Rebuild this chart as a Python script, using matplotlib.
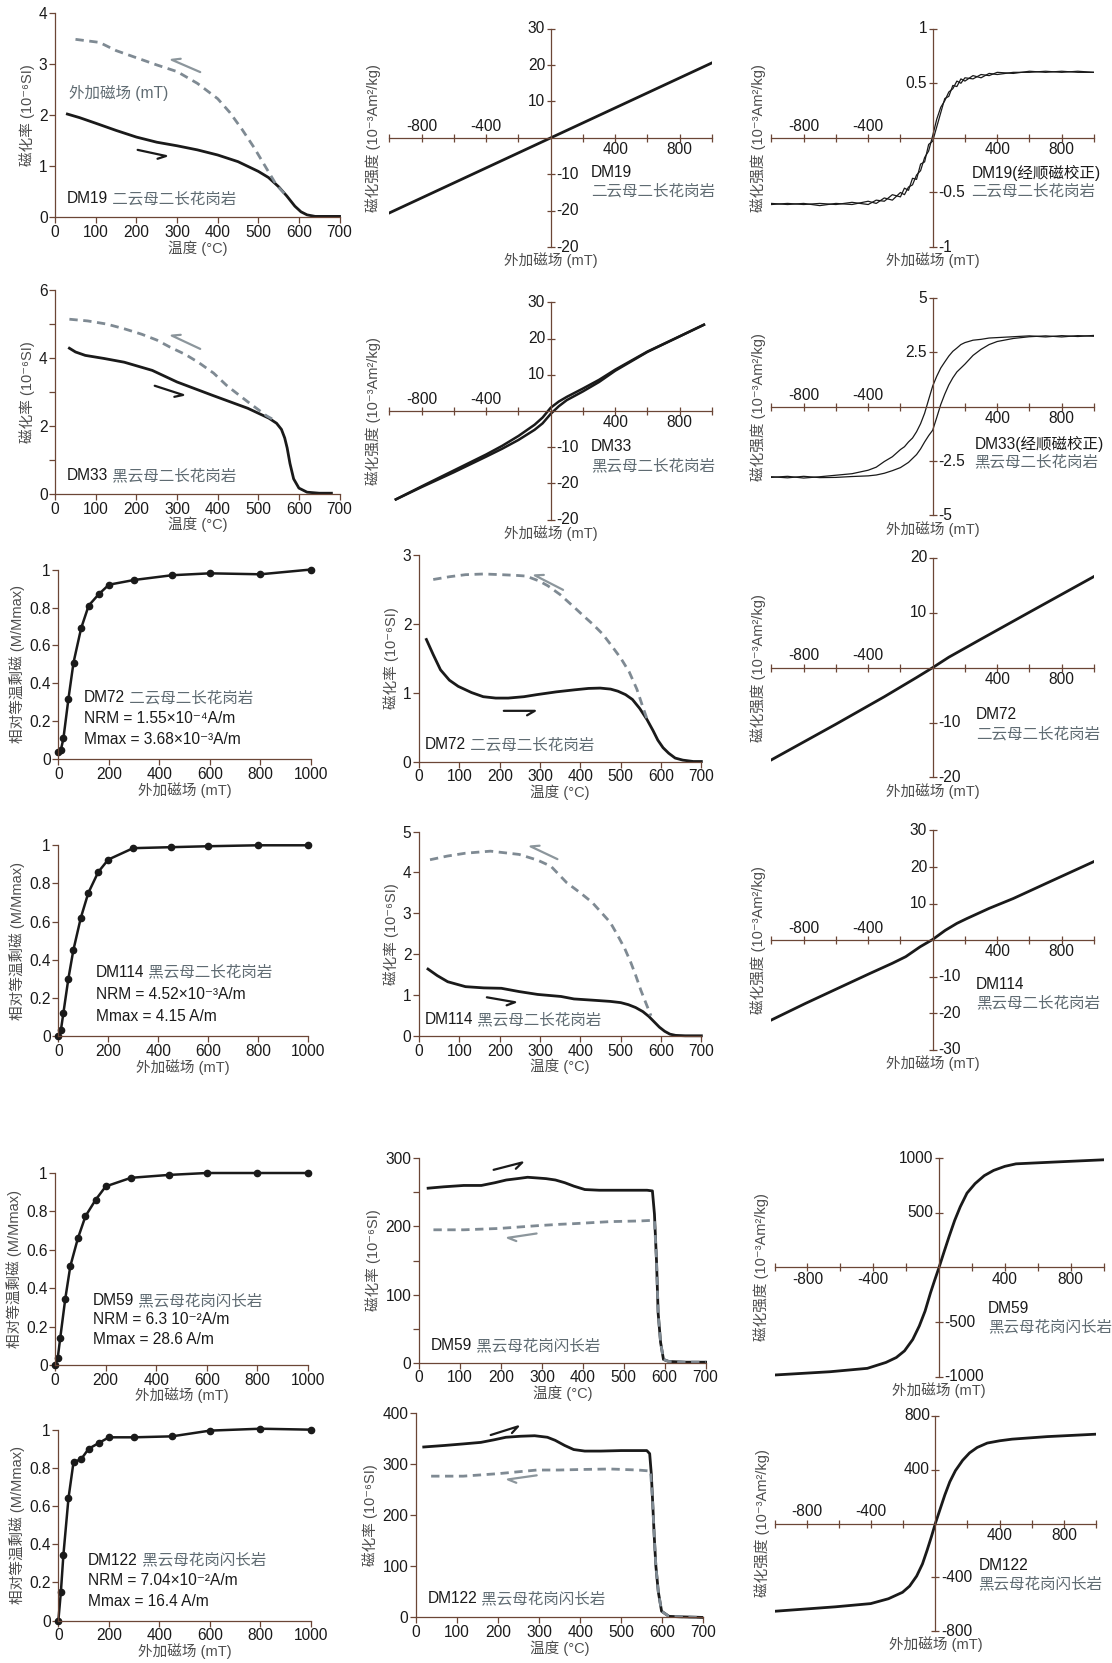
"""
rock-magnetic panels: chi-T curves, hysteresis (M-H) loops and IRM acquisition
for six granite samples, 6 rows x 3 columns
"""

import numpy as np
import matplotlib
matplotlib.use('Agg')
import matplotlib.pyplot as plt

plt.rcParams['font.family'] = ['Liberation Sans', 'Noto Sans CJK SC', 'DejaVu Sans']
plt.rcParams['font.size'] = 11
plt.rcParams['axes.unicode_minus'] = False

INK = '#1a1a1a'
AXIS = '#6b4636'
LABEL = '#4d4d4d'
ROCK = '#5f6b72'
DASH = '#7f8a93'
ARROW = '#8c969c'
FS = 11.2

# ---------------- chi-T data (temperature in C, susceptibility) ----------------
T_TICKS = [0, 100, 200, 300, 400, 500, 600, 700]

dm19_heat_t = [30, 60, 100, 150, 200, 250, 300, 350, 400, 450, 500, 525, 550, 570, 590, 605, 620, 640, 670, 700]
dm19_heat_k = [2.02, 1.95, 1.84, 1.70, 1.57, 1.47, 1.40, 1.32, 1.22, 1.09, 0.90, 0.78, 0.60, 0.42, 0.22, 0.11, 0.05, 0.02, 0.02, 0.02]
dm19_cool_t = [50, 109, 150, 200, 250, 300, 350, 400, 430, 460, 490, 520, 545, 570]
dm19_cool_k = [3.48, 3.42, 3.26, 3.12, 2.98, 2.85, 2.62, 2.32, 2.05, 1.72, 1.36, 0.96, 0.63, 0.42]

dm33_heat_t = [35, 50, 74, 120, 170, 239, 300, 387, 474, 526, 545, 557, 565, 571, 578, 587, 600, 620, 650, 680]
dm33_heat_k = [4.28, 4.17, 4.07, 3.98, 3.87, 3.63, 3.29, 2.90, 2.52, 2.23, 2.08, 1.90, 1.65, 1.36, 0.90, 0.45, 0.18, 0.06, 0.03, 0.03]
dm33_cool_t = [35, 80, 126, 170, 213, 250, 283, 320, 352, 390, 422, 450, 474, 500, 520, 535]
dm33_cool_k = [5.13, 5.08, 4.99, 4.85, 4.69, 4.52, 4.31, 4.10, 3.87, 3.55, 3.19, 2.93, 2.71, 2.48, 2.30, 2.20]

dm72_heat_t = [18, 35, 53, 75, 97, 130, 159, 190, 221, 260, 292, 340, 386, 420, 449, 475, 493, 512, 529, 547, 565, 580, 592, 605, 619, 635, 654, 680, 700]
dm72_heat_k = [1.77, 1.55, 1.33, 1.18, 1.09, 1.00, 0.94, 0.92, 0.92, 0.94, 0.97, 1.01, 1.04, 1.06, 1.065, 1.05, 1.02, 0.97, 0.90, 0.77, 0.61, 0.45, 0.31, 0.20, 0.12, 0.05, 0.02, 0.0, 0.0]
dm72_cool_t = [35, 75, 115, 160, 204, 240, 265, 297, 319, 350, 386, 410, 431, 455, 476, 500, 521, 540, 556, 565]
dm72_cool_k = [2.64, 2.68, 2.71, 2.72, 2.71, 2.70, 2.69, 2.62, 2.55, 2.42, 2.23, 2.10, 1.99, 1.85, 1.69, 1.50, 1.30, 1.05, 0.77, 0.62]

dm114_heat_t = [22, 45, 71, 115, 160, 204, 248, 294, 352, 384, 430, 474, 500, 519, 537, 555, 570, 582, 596, 609, 622, 636, 660, 700]
dm114_heat_k = [1.64, 1.48, 1.33, 1.21, 1.18, 1.17, 1.09, 1.02, 0.97, 0.91, 0.88, 0.85, 0.82, 0.77, 0.70, 0.60, 0.48, 0.36, 0.22, 0.12, 0.05, 0.02, 0.01, 0.01]
dm114_cool_t = [27, 70, 115, 177, 248, 294, 327, 366, 400, 429, 452, 474, 492, 510, 525, 537, 550, 564, 575]
dm114_cool_k = [4.31, 4.40, 4.47, 4.52, 4.44, 4.30, 4.15, 3.75, 3.50, 3.27, 3.02, 2.78, 2.47, 2.14, 1.80, 1.49, 1.12, 0.77, 0.50]

dm59_heat_t = [22, 60, 109, 152, 185, 213, 240, 265, 288, 310, 333, 356, 378, 405, 440, 467, 510, 557, 570, 575, 580, 584, 590, 597, 610, 650, 700]
dm59_heat_k = [256, 258, 260, 260, 264, 268, 270, 272, 271, 270, 268, 264, 259, 254, 253, 253, 253, 253, 252, 218, 150, 73, 30, 5, 2, 1, 1]
dm59_cool_t = [35, 109, 196, 288, 342, 378, 467, 540, 575, 580, 584, 590, 597, 610, 650, 700]
dm59_cool_k = [195, 195, 197, 201, 203, 204, 207, 208, 209, 150, 73, 30, 5, 2, 1, 1]

dm122_heat_t = [19, 70, 115, 158, 190, 219, 255, 289, 320, 339, 362, 384, 411, 450, 500, 562, 569, 573, 576, 580, 584, 590, 598, 616, 650, 696]
dm122_heat_k = [333, 336, 339, 342, 347, 352, 354, 355, 352, 346, 336, 328, 325, 325, 326, 326, 320, 280, 230, 160, 101, 50, 12, 2, 1, 0]
dm122_cool_t = [37, 115, 202, 295, 348, 400, 473, 540, 571, 576, 580, 584, 590, 598, 616, 650, 696]
dm122_cool_k = [276, 276, 281, 288, 288, 289, 290, 288, 286, 230, 160, 101, 50, 12, 2, 1, 0]

# ---------------- M-H data (field in mT, magnetisation) ----------------
dm19_line_h = [-1000, -500, 0, 500, 1000]
dm19_line_m = [-20.6, -10.3, 0, 10.3, 20.6]

dm33_line_h = [-960, -800, -600, -400, -300, -200, -100, -50, 0, 50, 100, 200, 300, 400, 600, 800, 950]
dm33_line_up = [-24.4, -20.8, -16.4, -12.0, -9.6, -6.9, -3.8, -1.8, 0.9, 2.6, 3.9, 6.2, 8.6, 11.4, 16.4, 20.6, 23.8]
dm33_line_lo = [-24.4, -21.0, -16.9, -12.6, -10.4, -8.0, -5.2, -3.4, -0.8, 1.3, 3.0, 5.4, 8.0, 11.1, 16.3, 20.6, 23.8]

loop_h = [-1000, -900, -800, -700, -600, -500, -400, -350, -300, -250, -200, -175, -150, -125, -100, -75, -50, -25,
          0, 25, 50, 75, 100, 125, 150, 175, 200, 250, 300, 350, 400, 500, 600, 700, 800, 900, 1000]
dm19_loop_up = [-0.60, -0.61, -0.60, -0.62, -0.60, -0.61, -0.58, -0.60, -0.55, -0.57, -0.50, -0.52, -0.45, -0.43,
                -0.34, -0.30, -0.18, -0.12, 0.02, 0.17, 0.28, 0.34, 0.42, 0.45, 0.52, 0.50, 0.55, 0.54, 0.58, 0.57,
                0.60, 0.59, 0.61, 0.60, 0.61, 0.60, 0.60]
dm19_loop_dn = [-0.61, -0.60, -0.61, -0.60, -0.61, -0.59, -0.61, -0.57, -0.58, -0.52, -0.54, -0.46, -0.48, -0.37,
                -0.38, -0.24, -0.22, -0.06, -0.03, 0.10, 0.23, 0.36, 0.38, 0.48, 0.47, 0.54, 0.52, 0.57, 0.55, 0.59,
                0.58, 0.60, 0.60, 0.61, 0.60, 0.61, 0.60]
dm33_loop_left = [-3.25, -3.20, -3.28, -3.22, -3.15, -3.08, -2.92, -2.78, -2.52, -2.30, -1.97, -1.84, -1.62, -1.44,
                  -1.15, -0.78, -0.30, 0.33, 0.95, 1.40, 1.78, 2.06, 2.33, 2.55, 2.70, 2.86, 2.95, 3.06, 3.10, 3.16,
                  3.18, 3.22, 3.26, 3.21, 3.27, 3.23, 3.28]
dm33_loop_right = [-3.22, -3.27, -3.20, -3.26, -3.25, -3.21, -3.18, -3.14, -3.06, -2.94, -2.80, -2.68, -2.56, -2.38,
                   -2.20, -1.94, -1.62, -1.33, -1.08, -0.50, 0.10, 0.58, 1.00, 1.33, 1.60, 1.78, 1.96, 2.36, 2.64,
                   2.86, 3.00, 3.14, 3.22, 3.26, 3.21, 3.27, 3.24]

dm72_line_h = [-1000, -600, -300, -100, 0, 100, 300, 600, 1000]
dm72_line_m = [-16.8, -10.3, -5.3, -1.8, 0, 1.9, 5.2, 10.1, 16.6]

dm114_line_h = [-1000, -790, -600, -390, -250, -167, -78, 0, 78, 150, 211, 350, 500, 722, 1000]
dm114_line_m = [-21.8, -17.3, -13.4, -9.1, -6.3, -4.5, -1.8, 0.2, 2.7, 4.6, 5.9, 8.7, 11.4, 15.9, 21.5]

dm59_loop_h = [-1000, -662, -436, -323, -260, -210, -160, -120, -85, -52, -25, 0, 30, 61, 95, 129, 170, 219, 275,
               332, 400, 468, 694, 1000]
dm59_loop_m = [-985, -955, -924, -870, -825, -764, -660, -536, -400, -233, -110, 0, 140, 282, 430, 555, 680, 767,
               840, 888, 925, 948, 964, 985]

dm122_loop_h = [-1000, -622, -402, -292, -204, -160, -116, -80, -51, -25, 0, 30, 59, 90, 125, 170, 213, 260, 323,
                400, 477, 697, 1000]
dm122_loop_m = [-652, -619, -595, -559, -511, -465, -390, -300, -198, -100, 0, 108, 212, 310, 393, 470, 525, 565,
                598, 615, 627, 646, 664]

# ---------------- IRM acquisition (field in mT, M/Mmax) ----------------
irm_field = [0, 10, 20, 40, 60, 90, 120, 160, 200, 300, 450, 600, 800, 1000]
dm72_irm = [0.04, 0.05, 0.11, 0.32, 0.51, 0.69, 0.81, 0.87, 0.92, 0.945, 0.97, 0.98, 0.975, 1.0]
dm114_irm = [0.0, 0.03, 0.12, 0.30, 0.45, 0.62, 0.75, 0.86, 0.925, 0.985, 0.99, 0.995, 1.0, 1.0]
dm59_irm = [0.0, 0.035, 0.14, 0.345, 0.515, 0.66, 0.775, 0.86, 0.93, 0.975, 0.99, 1.0, 1.0, 1.0]
dm122_irm = [0.0, 0.15, 0.345, 0.64, 0.83, 0.845, 0.90, 0.93, 0.96, 0.96, 0.965, 0.995, 1.005, 1.0]
IRM_TICKS = [0, 0.2, 0.4, 0.6, 0.8, 1]
IRM_LABELS = ['0', '0.2', '0.4', '0.6', '0.8', '1']

REF_W, REF_H = 1048, 1568
fig = plt.figure(figsize=(11.12, 16.63), dpi=100)


def frame(l, r, t, b):
	return [l / REF_W, 1 - b / REF_H, (r - l) / REF_W, (b - t) / REF_H]


def corner_axes(rect, xlim, ylim, xticks, yticks, ylabels=None, yminor=None):
	ax = fig.add_axes(rect)
	ax.patch.set_visible(False)
	ax.set_xlim(*xlim)
	ax.set_ylim(*ylim)
	ax.spines[['top', 'right']].set_visible(False)
	for s in ('left', 'bottom'):
		ax.spines[s].set_color(AXIS)
		ax.spines[s].set_linewidth(0.9)
	ax.set_xticks(xticks)
	if ylabels is None:
		ax.set_yticks(yticks)
	else:
		ax.set_yticks(yticks, ylabels)
	if yminor:
		ax.set_yticks(yminor, minor=True)
	ax.tick_params(which='both', direction='out', length=4, width=0.9, color=AXIS, labelcolor=INK, pad=1.5,
				   labelsize=FS)
	return ax


def temp_axes(rect, yticks, yminor=None):
	ax = corner_axes(rect, (0, 700), (0, yticks[-1]), T_TICKS, yticks, yminor=yminor)
	ax.set_xlabel('温度 (°C)', color=LABEL, fontsize=10.5, labelpad=0)
	ax.set_ylabel('磁化率 (10⁻⁶SI)', color=LABEL, fontsize=10.5, labelpad=3)
	return ax


def irm_axes(rect):
	ax = corner_axes(rect, (0, 1000), (0, 1), [0, 200, 400, 600, 800, 1000], IRM_TICKS, IRM_LABELS)
	ax.set_xlabel('外加磁场 (mT)', color=LABEL, fontsize=10.5, labelpad=0)
	ax.set_ylabel('相对等温剩磁 (M/Mmax)', color=LABEL, fontsize=10.5, labelpad=3)
	return ax


def field_axes(rect, ymax, yticks, ylabels, neg_x_above=True, ylab_x=-0.04):
	ax = fig.add_axes(rect)
	ax.patch.set_visible(False)
	ax.set_xlim(-1000, 1000)
	ax.set_ylim(-ymax, ymax)
	ax.spines[['top', 'right']].set_visible(False)
	for s in ('left', 'bottom'):
		ax.spines[s].set_position(('data', 0))
		ax.spines[s].set_color(AXIS)
		ax.spines[s].set_linewidth(0.9)
	ax.set_xticks([-1000, -800, -600, -400, -200, 200, 400, 600, 800, 1000])
	ax.set_yticks(yticks)
	ax.tick_params(direction='inout', length=6, width=0.9, color=AXIS, labelbottom=False, labelleft=False)
	for v in (-800, -400, 400, 800):
		above = neg_x_above and v < 0
		ax.annotate(str(v), (v, 0), xytext=(0, 3 if above else -3), textcoords='offset points',
					ha='center', va='bottom' if above else 'top', color=INK, fontsize=FS)
	for v, lbl in zip(yticks, ylabels):
		ax.annotate(lbl, (0, v), xytext=(-4 if v > 0 else 4, 0), textcoords='offset points',
					ha='right' if v > 0 else 'left', va='center', color=INK, fontsize=FS)
	ax.text(0.5, -0.025, '外加磁场 (mT)', transform=ax.transAxes, ha='center', va='top', color=LABEL, fontsize=10.5)
	ax.text(ylab_x, 0.5, '磁化强度 (10⁻³Am²/kg)', transform=ax.transAxes, ha='center', va='center',
			rotation=90, color=LABEL, fontsize=10.5)
	return ax


def tag(ax, x, y, code, rock):
	t = ax.text(x, y, code, transform=ax.transAxes, color=INK, fontsize=FS, va='center')
	ax.annotate(' ' + rock, xy=(1, 0.5), xycoords=t, va='center', ha='left', color=ROCK, fontsize=FS)


def two_line_tag(ax, x, y, code, rock, gap=0.085):
	ax.text(x, y, code, transform=ax.transAxes, color=INK, fontsize=FS, va='center')
	ax.text(x, y - gap, rock, transform=ax.transAxes, color=ROCK, fontsize=FS, va='center')


def irm_tag(ax, x, y, code, rock, nrm, mmax, gap=0.11):
	tag(ax, x, y, code, rock)
	ax.text(x, y - gap, nrm, transform=ax.transAxes, color=INK, fontsize=FS, va='center')
	ax.text(x, y - 2 * gap, mmax, transform=ax.transAxes, color=INK, fontsize=FS, va='center')


def harpoon(ax, tail, tip, color, side, lw=1.6, barb=9):
	p0 = ax.transAxes.transform(tail)
	p1 = ax.transAxes.transform(tip)
	d = (p0 - p1) / np.hypot(*(p0 - p1))
	a = np.radians(30) * side
	rot = np.array([[np.cos(a), -np.sin(a)], [np.sin(a), np.cos(a)]])
	p2 = p1 + barb * rot @ d
	pts = ax.transAxes.inverted().transform(np.array([p0, p1, p2]))
	ax.plot(pts[:, 0], pts[:, 1], color=color, lw=lw, transform=ax.transAxes, clip_on=False,
			solid_capstyle='round', solid_joinstyle='round')


def chi_t(ax, th, kh, tc, kc):
	ax.plot(th, kh, color=INK, lw=2, clip_on=False)
	ax.plot(tc, kc, color=DASH, lw=2, dashes=(3, 2), clip_on=False)


def irm(ax, vals):
	ax.plot(irm_field, vals, color=INK, lw=1.8, marker='o', ms=4.5, clip_on=False)


# ---------------- row 1 ----------------
ax = temp_axes(frame(52, 320, 12, 205), [0, 1, 2, 3, 4])
chi_t(ax, dm19_heat_t, dm19_heat_k, dm19_cool_t, dm19_cool_k)
harpoon(ax, (0.51, 0.71), (0.41, 0.77), ARROW, 1)
harpoon(ax, (0.29, 0.33), (0.39, 0.30), INK, 1)
tag(ax, 0.04, 0.09, 'DM19', '二云母二长花岗岩')
ax.text(0.05, 0.61, '外加磁场 (mT)', transform=ax.transAxes, color=ROCK, fontsize=FS, va='center')

ax = field_axes(frame(367, 671, 27, 233), 30, [30, 20, 10, -10, -20, -30], ['30', '20', '10', '-10', '-20', '-20'],
				ylab_x=-0.05)
ax.plot(dm19_line_h, dm19_line_m, color=INK, lw=2)
two_line_tag(ax, 0.625, 0.34, 'DM19', '二云母二长花岗岩')

ax = field_axes(frame(727, 1031, 27, 233), 1, [1, 0.5, -0.5, -1], ['1', '0.5', '-0.5', '-1'])
ax.plot(loop_h, dm19_loop_up, color=INK, lw=0.9)
ax.plot(loop_h, dm19_loop_dn, color=INK, lw=0.9)
two_line_tag(ax, 0.62, 0.34, 'DM19(经顺磁校正)', '二云母二长花岗岩')

# ---------------- row 2 ----------------
ax = temp_axes(frame(52, 320, 273, 466), [0, 2, 4, 6], yminor=[1, 3, 5])
chi_t(ax, dm33_heat_t, dm33_heat_k, dm33_cool_t, dm33_cool_k)
harpoon(ax, (0.51, 0.71), (0.41, 0.775), ARROW, 1)
harpoon(ax, (0.35, 0.53), (0.45, 0.485), INK, 1)
tag(ax, 0.04, 0.09, 'DM33', '黑云母二长花岗岩')

ax = field_axes(frame(367, 671, 285, 490), 30, [30, 20, 10, -10, -20, -30], ['30', '20', '10', '-10', '-20', '-20'],
				ylab_x=-0.05)
ax.plot(dm33_line_h, dm33_line_up, color=INK, lw=1.8)
ax.plot(dm33_line_h, dm33_line_lo, color=INK, lw=1.8)
two_line_tag(ax, 0.625, 0.335, 'DM33', '黑云母二长花岗岩')

ax = field_axes(frame(727, 1031, 281, 486), 5, [5, 2.5, -2.5, -5], ['5', '2.5', '-2.5', '-5'])
ax.plot(loop_h, dm33_loop_left, color=INK, lw=0.9)
ax.plot(loop_h, dm33_loop_right, color=INK, lw=0.9)
two_line_tag(ax, 0.63, 0.33, 'DM33(经顺磁校正)', '黑云母二长花岗岩')

# ---------------- row 3 ----------------
ax = irm_axes(frame(55, 293, 537, 716))
irm(ax, dm72_irm)
irm_tag(ax, 0.10, 0.325, 'DM72', '二云母二长花岗岩', 'NRM = 1.55×10⁻⁴A/m', 'Mmax = 3.68×10⁻³A/m')

ax = temp_axes(frame(395, 661, 523, 718), [0, 1, 2, 3])
chi_t(ax, dm72_heat_t, dm72_heat_k, dm72_cool_t, dm72_cool_k)
harpoon(ax, (0.51, 0.83), (0.41, 0.90), ARROW, 1)
harpoon(ax, (0.30, 0.245), (0.41, 0.245), INK, 1)
tag(ax, 0.02, 0.08, 'DM72', '二云母二长花岗岩')

ax = field_axes(frame(727, 1031, 526, 733), 20, [20, 10, -10, -20], ['20', '10', '-10', '-20'])
ax.plot(dm72_line_h, dm72_line_m, color=INK, lw=2)
two_line_tag(ax, 0.635, 0.285, 'DM72', '二云母二长花岗岩')

# ---------------- row 4 ----------------
ax = irm_axes(frame(55, 290, 797, 977))
irm(ax, dm114_irm)
irm_tag(ax, 0.15, 0.335, 'DM114', '黑云母二长花岗岩', 'NRM = 4.52×10⁻³A/m', 'Mmax = 4.15 A/m', gap=0.117)

ax = temp_axes(frame(395, 661, 784, 977), [0, 1, 2, 3, 4, 5])
chi_t(ax, dm114_heat_t, dm114_heat_k, dm114_cool_t, dm114_cool_k)
harpoon(ax, (0.49, 0.865), (0.395, 0.927), ARROW, 1)
harpoon(ax, (0.24, 0.19), (0.34, 0.166), INK, 1)
tag(ax, 0.02, 0.08, 'DM114', '黑云母二长花岗岩')

ax = field_axes(frame(727, 1031, 783, 990), 30, [30, 20, 10, -10, -20, -30], ['30', '20', '10', '-10', '-20', '-30'])
ax.plot(dm114_line_h, dm114_line_m, color=INK, lw=2)
two_line_tag(ax, 0.635, 0.30, 'DM114', '黑云母二长花岗岩')

# ---------------- row 5 ----------------
ax = irm_axes(frame(52, 290, 1106, 1287))
irm(ax, dm59_irm)
irm_tag(ax, 0.15, 0.335, 'DM59', '黑云母花岗闪长岩', 'NRM = 6.3 10⁻²A/m', 'Mmax = 28.6 A/m', gap=0.1)

ax = temp_axes(frame(395, 665, 1092, 1285), [0, 100, 200, 300], yminor=[50, 150, 250])
chi_t(ax, dm59_heat_t, dm59_heat_k, dm59_cool_t, dm59_cool_k)
harpoon(ax, (0.26, 0.943), (0.36, 0.979), INK, 1)
harpoon(ax, (0.41, 0.632), (0.31, 0.611), ARROW, -1)
tag(ax, 0.04, 0.084, 'DM59', '黑云母花岗闪长岩')

ax = field_axes(frame(730, 1040, 1092, 1298), 1000, [1000, 500, -500, -1000], ['1000', '500', '-500', '-1000'],
				neg_x_above=False)
ax.plot(dm59_loop_h, dm59_loop_m, color=INK, lw=2)
two_line_tag(ax, 0.648, 0.314, 'DM59', '黑云母花岗闪长岩')

# ---------------- row 6 ----------------
ax = irm_axes(frame(55, 293, 1348, 1528))
irm(ax, dm122_irm)
irm_tag(ax, 0.117, 0.317, 'DM122', '黑云母花岗闪长岩', 'NRM = 7.04×10⁻²A/m', 'Mmax = 16.4 A/m', gap=0.108)

ax = temp_axes(frame(392, 663, 1332, 1525), [0, 100, 200, 300, 400])
chi_t(ax, dm122_heat_t, dm122_heat_k, dm122_cool_t, dm122_cool_k)
harpoon(ax, (0.26, 0.891), (0.355, 0.933), INK, 1)
harpoon(ax, (0.42, 0.694), (0.32, 0.674), ARROW, -1)
tag(ax, 0.04, 0.093, 'DM122', '黑云母花岗闪长岩')

ax = field_axes(frame(730, 1033, 1335, 1538), 800, [800, 400, -400, -800], ['800', '400', '-400', '-800'])
ax.plot(dm122_loop_h, dm122_loop_m, color=INK, lw=2)
two_line_tag(ax, 0.634, 0.306, 'DM122', '黑云母花岗闪长岩')

fig.savefig('out.png', dpi=100, facecolor='white')
